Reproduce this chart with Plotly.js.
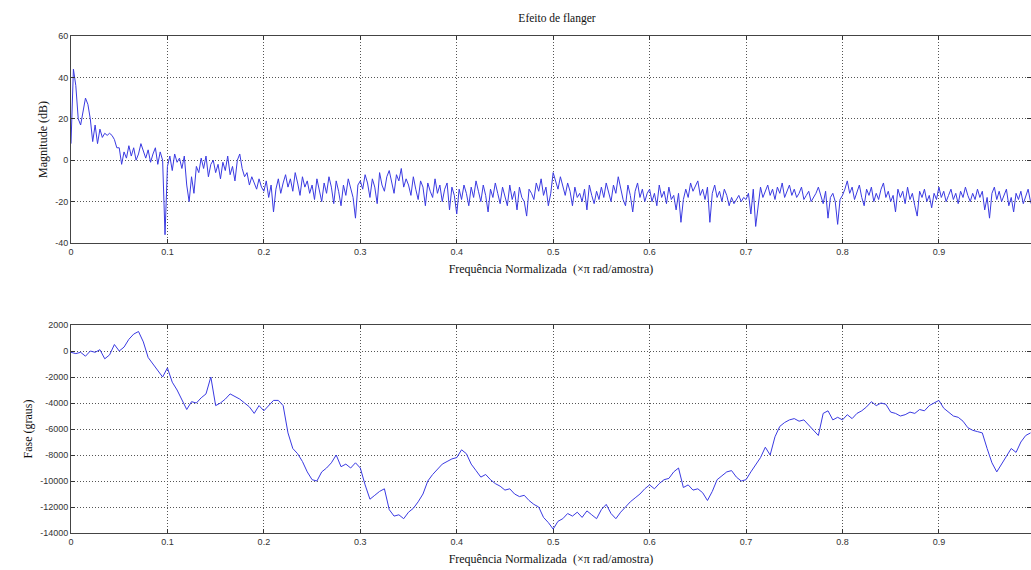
<!DOCTYPE html>
<html>
<head>
<meta charset="utf-8">
<script src="https://cdn.plot.ly/plotly-3.0.1.min.js"></script>
<style>html,body{margin:0;padding:0;background:#fff}#chart{width:1031px;height:570px}</style>
</head>
<body>
<div id="chart"></div>
<script>
// ---- data ----
const chartTitle = "Efeito de flanger";
const xTitle = "Frequência Normalizada  (×π rad/amostra)";
const magTitle = "Magnitude (dB)";
const phaseTitle = "Fase (graus)";

const magStep = 0.0025;   // frequency spacing of magnitude samples
const magnitudeDb = [
  8, 44, 36, 20, 17, 24, 30, 27, 20, 9, 17, 8, 15, 11, 13, 12, 13, 12, 10, 6,
  6, -2, 4, 1, 7, 2, 6, 0, 3, 8, 4, 1, 5, -1, 3, 6, -2, 4, 0, -36,
  -3, 2, -5, 3, -1, 1, -4, 2, -12, -20, -8, -16, -3, -6, 1, -4, 2, -8, -2, 0,
  -6, -2, -9, -1, -5, 2, -7, -3, -10, 0, 3, -4, -8, -6, -12, -8, -11, -14, -9, -13,
  -15, -10, -18, -12, -25, -14, -9, -16, -11, -7, -13, -9, -15, -6, -11, -17, -8, -13, -10, -16,
  -12, -19, -9, -14, -20, -11, -16, -8, -13, -21, -10, -15, -22, -12, -17, -9, -14, -18, -28, -12,
  -10, -14, -7, -11, -18, -9, -13, -21, -6, -12, -15, -8, -5, -11, -16, -7, -10, -4, -13, -9,
  -12, -17, -8, -14, -19, -10, -13, -22, -11, -15, -18, -9, -16, -12, -20, -14, -11, -24, -13, -17,
  -26, -14, -19, -12, -16, -22, -13, -18, -10, -15, -20, -12, -17, -25, -14, -18, -11, -16, -21, -13,
  -17, -22, -12, -19, -15, -24, -13, -18, -20, -27, -14, -16, -19, -11, -15, -9, -17, -13, -22, -16,
  -6, -10, -14, -8, -12, -17, -11, -15, -22, -13, -18, -16, -20, -14, -24, -12, -17, -21, -15, -19,
  -13, -18, -11, -15, -20, -12, -16, -8, -14, -19, -22, -12, -17, -25, -15, -11, -18, -14, -20, -16,
  -14, -20, -16, -22, -12, -18, -15, -21, -13, -19, -17, -24, -16, -30, -19, -14, -18, -11, -15, -12,
  -10, -17, -14, -19, -13, -30, -16, -12, -18, -15, -20, -14, -17, -22, -18, -21, -19, -17, -20, -18,
  -19, -16, -26, -14, -32, -22, -13, -18, -15, -12, -17, -14, -19, -13, -16, -11, -18, -15, -12, -17,
  -14, -18, -16, -13, -19, -17, -15, -20, -18, -16, -13, -17, -21, -15, -28, -18, -16, -20, -31, -19,
  -17, -14, -10, -16, -13, -19, -15, -12, -18, -22, -14, -17, -13, -20, -16, -19, -14, -11, -18, -15,
  -20, -17, -25, -14, -18, -15, -21, -13, -19, -16, -22, -27, -15, -18, -14, -20, -17, -23, -16, -19,
  -13, -18, -15, -20, -17, -14, -19, -16, -21, -15, -18, -13, -17, -20, -16, -19, -14, -18, -15, -24,
  -18, -28, -16, -13, -19, -15, -20, -17, -14, -22, -18, -25, -16, -19, -15, -21, -17, -14, -20, -23
];

const phaseStep = 0.005;  // frequency spacing of phase samples
const phaseDeg = [
  -100, -200, -100, -400, 0, -100, 100, -600, -300, 500,
  0, 300, 900, 1300, 1500, 700, -500, -1000, -1500, -2000,
  -1300, -2400, -3000, -3800, -4500, -3900, -4000, -3600, -3300, -2000,
  -4200, -4000, -3700, -3300, -3500, -3700, -4000, -4300, -4800, -4200,
  -4600, -4200, -3800, -3800, -4200, -6300, -7500, -7900, -8500, -9300,
  -9900, -10000, -9300, -9000, -8600, -8000, -8900, -8700, -9000, -8600,
  -9000, -10300, -11400, -11100, -10800, -10600, -12200, -12700, -12600, -12900,
  -12400, -12100, -11600, -11000, -10000, -9500, -9100, -8700, -8500, -8300,
  -8200, -7600, -7900, -8700, -9200, -9700, -9500, -9900, -10200, -10400,
  -10700, -10600, -11000, -11200, -11100, -11500, -11800, -12000, -12800, -13200,
  -13700, -13100, -12900, -12500, -12700, -12400, -12800, -12300, -12600, -12900,
  -12200, -11800, -12500, -12900, -12400, -12000, -11600, -11300, -11000, -10600,
  -10300, -10600, -10200, -9900, -9800, -9300, -9000, -10500, -10300, -10700,
  -10600, -10900, -11500, -10800, -9900, -9600, -9300, -9200, -9700, -10000,
  -9900, -9300, -8700, -8200, -7400, -8000, -6600, -5800, -5500, -5300,
  -5200, -5400, -5300, -5700, -6100, -6500, -4800, -4600, -5300, -5100,
  -5300, -4900, -5200, -4800, -4600, -4300, -3900, -4200, -4000, -4100,
  -4700, -4800, -5000, -4900, -4700, -4800, -4500, -4600, -4200, -4000,
  -3800, -4400, -4700, -5000, -5100, -5400, -5900, -6100, -6200, -6300,
  -7500, -8600, -9300, -8700, -8000, -7500, -7800, -7000, -6500, -6300
];

const xTickVals = [0, 0.1, 0.2, 0.3, 0.4, 0.5, 0.6, 0.7, 0.8, 0.9, 1];
const xTickText = ["0", "0.1", "0.2", "0.3", "0.4", "0.5", "0.6", "0.7", "0.8", "0.9", "1"];
const magTickVals = [-40, -20, 0, 20, 40, 60];
const magTickText = ["-40", "-20", "0", "20", "40", "60"];
const phaseTickVals = [-14000, -12000, -10000, -8000, -6000, -4000, -2000, 0, 2000];
const phaseTickText = ["-14000", "-12000", "-10000", "-8000", "-6000", "-4000", "-2000", "0", "2000"];

// ---- build frequency grids ----
const magFreq = magnitudeDb.map((_, i) => +(i * magStep).toFixed(5));
const phaseFreq = phaseDeg.map((_, i) => +(i * phaseStep).toFixed(5));

const lineColor = '#3a3ae2';
const tickFont = {family: 'Liberation Sans, Arial, sans-serif', size: 9, color: '#333'};
const titleFont = {family: 'Liberation Serif, Times New Roman, serif', size: 12, color: '#111'};

function xAxis(anchor) {
  return {
    anchor: anchor, domain: [0, 1], range: [0, 0.9955],
    tickvals: xTickVals, ticktext: xTickText, tickfont: tickFont,
    ticks: 'inside', ticklen: 4, tickcolor: '#333',
    showline: true, linecolor: '#444', linewidth: 1, mirror: 'ticks',
    showgrid: true, gridcolor: '#555', griddash: '1px,2px', gridwidth: 1,
    zeroline: false,
    title: {text: xTitle, font: titleFont, standoff: 8}
  };
}
function yAxis(anchor, domain, range, vals, text, title) {
  return {
    anchor: anchor, domain: domain, range: range,
    tickvals: vals, ticktext: text, tickfont: tickFont,
    ticks: 'inside', ticklen: 4, tickcolor: '#333',
    showline: true, linecolor: '#444', linewidth: 1, mirror: 'ticks',
    showgrid: true, gridcolor: '#555', griddash: '1px,2px', gridwidth: 1,
    zeroline: false,
    title: {text: title, font: titleFont, standoff: 4}
  };
}

const traces = [
  {x: magFreq, y: magnitudeDb, xaxis: 'x', yaxis: 'y', type: 'scatter', mode: 'lines',
   line: {color: lineColor, width: 1}, hoverinfo: 'skip'},
  {x: phaseFreq, y: phaseDeg, xaxis: 'x2', yaxis: 'y2', type: 'scatter', mode: 'lines',
   line: {color: lineColor, width: 1}, hoverinfo: 'skip'}
];

const layout = {
  width: 1031, height: 570,
  margin: {l: 71, r: 0, t: 0, b: 0},
  paper_bgcolor: '#fff', plot_bgcolor: '#fff',
  showlegend: false,
  title: {text: chartTitle, font: {family: 'Liberation Serif, Times New Roman, serif', size: 11.5, color: '#111'},
          x: 557 / 1031, xanchor: 'center', xref: 'container', y: 1 - 18 / 570, yanchor: 'middle', yref: 'container'},
  xaxis: xAxis('y'),
  yaxis: yAxis('x', [1 - 243 / 570, 1 - 36 / 570], [-40, 60], magTickVals, magTickText, magTitle),
  xaxis2: xAxis('y2'),
  yaxis2: yAxis('x2', [1 - 533 / 570, 1 - 325 / 570], [-14000, 2000], phaseTickVals, phaseTickText, phaseTitle)
};

Plotly.newPlot('chart', traces, layout, {displayModeBar: false, staticPlot: true});
</script>
</body>
</html>
